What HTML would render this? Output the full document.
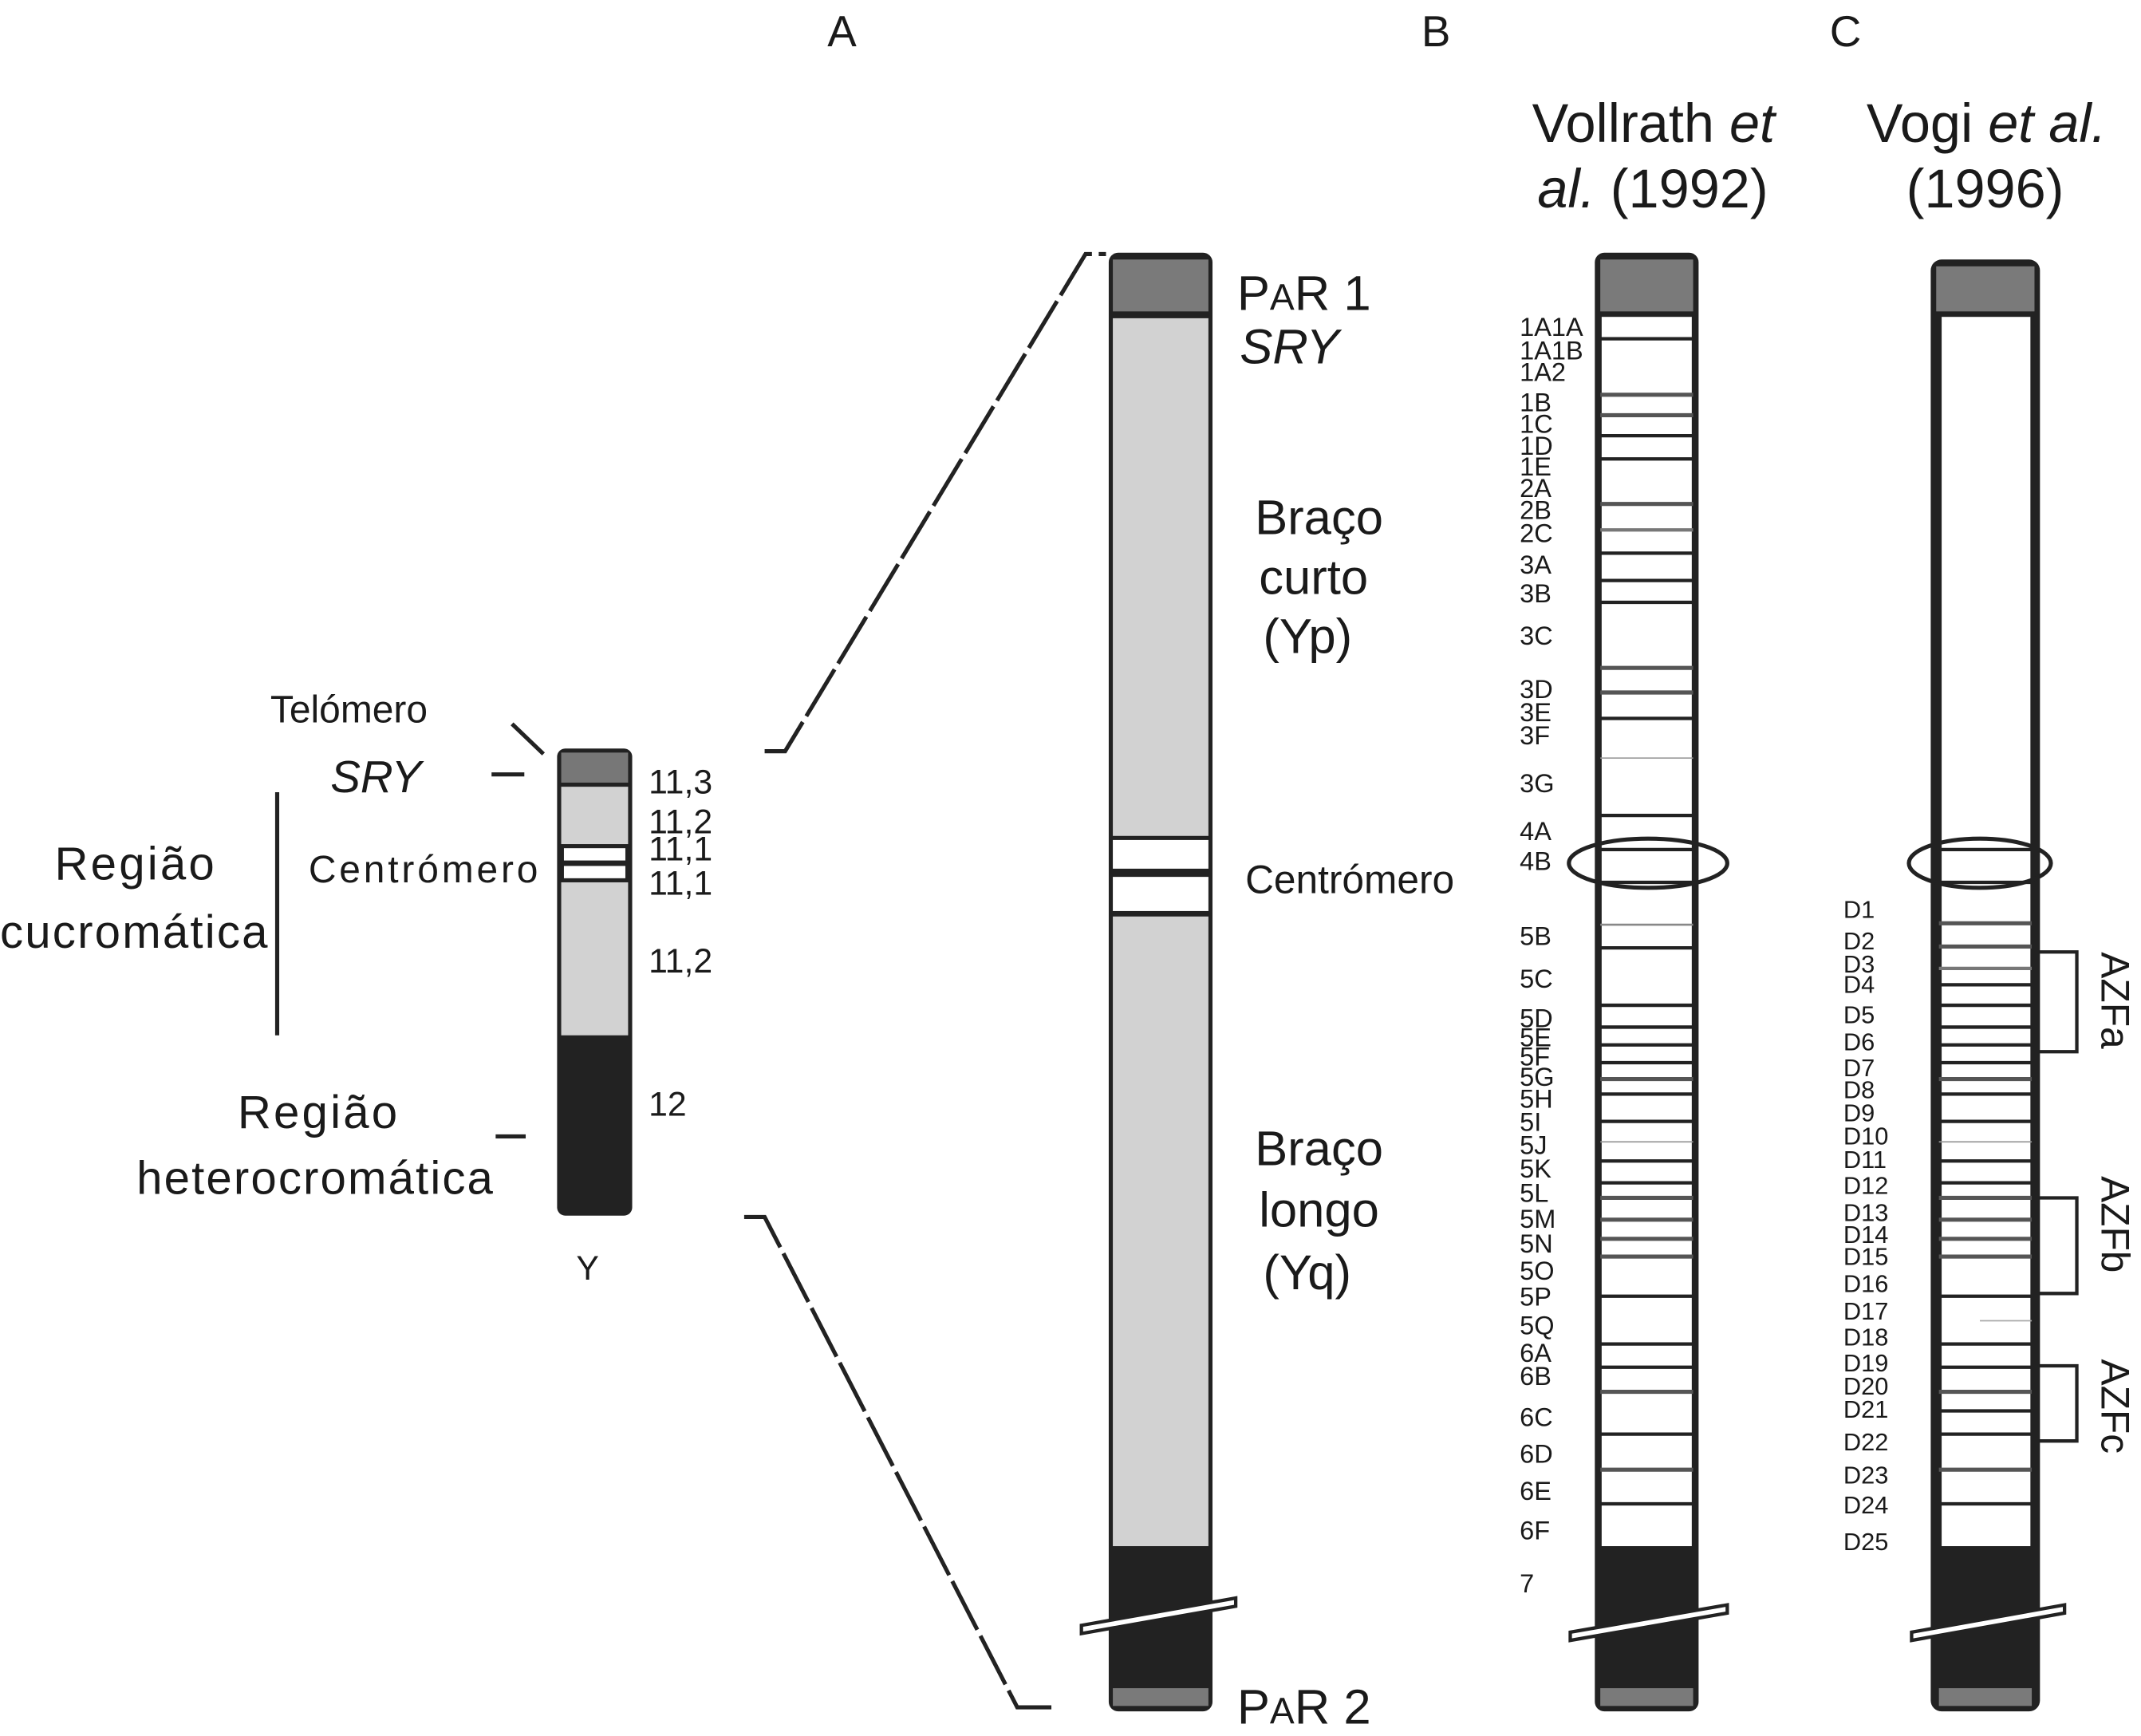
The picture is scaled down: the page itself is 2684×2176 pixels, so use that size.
<!DOCTYPE html>
<html><head><meta charset="utf-8"><style>
html,body{margin:0;padding:0;background:#fff;}
svg{display:block;}
text{font-family:"Liberation Sans Narrow","Liberation Sans",sans-serif;fill:#1a1a1a;}
</style></head><body>
<svg width="2684" height="2176" viewBox="0 0 1568 1271" preserveAspectRatio="none" xmlns="http://www.w3.org/2000/svg">
<rect width="1568" height="1271" fill="#fff"/>
<g font-size="32">
<text x="606" y="34" style="font-family:'Liberation Sans',sans-serif">A</text>
<text x="1041" y="34" style="font-family:'Liberation Sans',sans-serif">B</text>
<text x="1340" y="34" style="font-family:'Liberation Sans',sans-serif">C</text>
</g>
<g font-size="40">
<text x="1122" y="104" style="font-family:'Liberation Sans',sans-serif">Vollrath <tspan font-style="italic">et</tspan></text>
<text x="1126" y="152" style="font-family:'Liberation Sans',sans-serif"><tspan font-style="italic">al.</tspan> (1992)</text>
<text x="1367" y="104" style="font-family:'Liberation Sans',sans-serif">Vogi <tspan font-style="italic">et al.</tspan></text>
<text x="1396" y="152" style="font-family:'Liberation Sans',sans-serif">(1996)</text>
</g>

<rect x="408" y="548" width="55" height="342" rx="6" fill="#222"/>
<rect x="411" y="551" width="49" height="22" fill="#777"/>
<rect x="411" y="576" width="49" height="42" fill="#d2d2d2"/>
<rect x="413" y="621" width="45" height="9" fill="#fff"/>
<rect x="413" y="634" width="45" height="9" fill="#fff"/>
<rect x="411" y="646" width="49" height="112" fill="#d2d2d2"/>
<g font-size="25">
<text x="475" y="581">11,3</text>
<text x="475" y="610">11,2</text>
<text x="475" y="630">11,1</text>
<text x="475" y="655">11,1</text>
<text x="475" y="712">11,2</text>
<text x="475" y="817">12</text>
<text x="422" y="937">Y</text>
</g>
<g font-size="28">
<text x="198" y="529">Telómero</text>
<text x="242" y="580" font-style="italic" font-size="33">SRY</text>
<text x="226" y="646" textLength="168">Centrómero</text>
<text x="40" y="644" font-size="34" textLength="117">Região</text>
<text x="0" y="694" font-size="34" textLength="196">cucromática</text>
<text x="174" y="826" font-size="34" textLength="117">Região</text>
<text x="100" y="874" font-size="34" textLength="261">heterocromática</text>
</g>
<line x1="203" y1="580" x2="203" y2="758" stroke="#222" stroke-width="3"/>
<line x1="375" y1="530" x2="398" y2="552" stroke="#222" stroke-width="3"/>
<line x1="360" y1="567" x2="384" y2="567" stroke="#222" stroke-width="3"/>
<line x1="363" y1="832" x2="385" y2="832" stroke="#222" stroke-width="3"/>

<path d="M560 550 L575 550 L795 186 L810 186" fill="none" stroke="#222" stroke-width="3" stroke-dasharray="40 5"/>
<path d="M545 891 L560 891 L745 1250 L770 1250" fill="none" stroke="#222" stroke-width="3" stroke-dasharray="40 5"/>

<rect x="812" y="185" width="76" height="1068" rx="7" fill="#222"/>
<rect x="815" y="190" width="70" height="38" fill="#7a7a7a"/>
<rect x="815" y="233" width="70" height="379" fill="#d2d2d2"/>
<rect x="815" y="615" width="70" height="21" fill="#fff"/>
<rect x="815" y="642" width="70" height="25" fill="#fff"/>
<rect x="815" y="671" width="70" height="461" fill="#d2d2d2"/>
<rect x="815" y="1236" width="70" height="13" fill="#7a7a7a"/>
<path d="M792 1190 L905 1170 L905 1176 L792 1196Z" fill="#fff" stroke="#222" stroke-width="2.5"/>
<g font-size="36">
<text x="906" y="227" style="font-family:'Liberation Sans',sans-serif">P<tspan font-size="27">A</tspan>R 1</text>
<text x="908" y="266" font-style="italic" style="font-family:'Liberation Sans',sans-serif">SRY</text>
<text x="919" y="391" style="font-family:'Liberation Sans',sans-serif">Braço</text>
<text x="922" y="435" style="font-family:'Liberation Sans',sans-serif">curto</text>
<text x="925" y="478" style="font-family:'Liberation Sans',sans-serif">(Yp)</text>
<text x="919" y="853" style="font-family:'Liberation Sans',sans-serif">Braço</text>
<text x="922" y="898" style="font-family:'Liberation Sans',sans-serif">longo</text>
<text x="925" y="944" style="font-family:'Liberation Sans',sans-serif">(Yq)</text>
<text x="906" y="1262" style="font-family:'Liberation Sans',sans-serif">P<tspan font-size="27">A</tspan>R 2</text>
</g>
<text x="912" y="654" font-size="29" style="font-family:'Liberation Sans',sans-serif">Centrómero</text>

<rect x="1168" y="185" width="76" height="1068" rx="7" fill="#222"/>
<rect x="1172" y="190" width="68" height="38" fill="#7a7a7a"/>
<rect x="1173" y="232" width="66" height="900" fill="#fff"/>
<rect x="1172" y="1236" width="68" height="13" fill="#7a7a7a"/>
<g stroke="#222" stroke-width="2.5">
<line x1="1172" x2="1240" y1="248" y2="248"/>
<line x1="1172" x2="1240" y1="289" y2="289" stroke="#555" stroke-width="3"/>
<line x1="1172" x2="1240" y1="304" y2="304" stroke="#555" stroke-width="3"/>
<line x1="1172" x2="1240" y1="319" y2="319"/>
<line x1="1172" x2="1240" y1="336" y2="336"/>
<line x1="1172" x2="1240" y1="369" y2="369" stroke="#555" stroke-width="3"/>
<line x1="1172" x2="1240" y1="388" y2="388" stroke="#777"/>
<line x1="1172" x2="1240" y1="405" y2="405"/>
<line x1="1172" x2="1240" y1="425" y2="425"/>
<line x1="1172" x2="1240" y1="441" y2="441"/>
<line x1="1172" x2="1240" y1="489" y2="489" stroke="#555" stroke-width="3"/>
<line x1="1172" x2="1240" y1="507" y2="507" stroke="#555" stroke-width="3"/>
<line x1="1172" x2="1240" y1="526" y2="526"/>
<line x1="1172" x2="1240" y1="555" y2="555" stroke="#999" stroke-width="1"/>
<line x1="1172" x2="1240" y1="597" y2="597"/>
<line x1="1172" x2="1240" y1="622" y2="622"/>
<line x1="1172" x2="1240" y1="646" y2="646"/>
<line x1="1172" x2="1240" y1="677" y2="677" stroke="#888" stroke-width="1.5"/>
<line x1="1172" x2="1240" y1="694" y2="694"/>
<line x1="1172" x2="1240" y1="736" y2="736"/>
<line x1="1172" x2="1240" y1="752" y2="752"/>
<line x1="1172" x2="1240" y1="765" y2="765"/>
<line x1="1172" x2="1240" y1="778" y2="778"/>
<line x1="1172" x2="1240" y1="790" y2="790" stroke="#555" stroke-width="3"/>
<line x1="1172" x2="1240" y1="801" y2="801"/>
<line x1="1172" x2="1240" y1="821" y2="821"/>
<line x1="1172" x2="1240" y1="836" y2="836" stroke="#999" stroke-width="1"/>
<line x1="1172" x2="1240" y1="850" y2="850"/>
<line x1="1172" x2="1240" y1="866" y2="866"/>
<line x1="1172" x2="1240" y1="877" y2="877" stroke="#555" stroke-width="3"/>
<line x1="1172" x2="1240" y1="893" y2="893" stroke="#555" stroke-width="3"/>
<line x1="1172" x2="1240" y1="907" y2="907" stroke="#555" stroke-width="3"/>
<line x1="1172" x2="1240" y1="920" y2="920" stroke="#555" stroke-width="3"/>
<line x1="1172" x2="1240" y1="949" y2="949"/>
<line x1="1172" x2="1240" y1="984" y2="984"/>
<line x1="1172" x2="1240" y1="1001" y2="1001"/>
<line x1="1172" x2="1240" y1="1019" y2="1019" stroke="#555" stroke-width="3"/>
<line x1="1172" x2="1240" y1="1050" y2="1050"/>
<line x1="1172" x2="1240" y1="1076" y2="1076" stroke="#555" stroke-width="3"/>
<line x1="1172" x2="1240" y1="1101" y2="1101"/>
</g>
<ellipse cx="1207" cy="632" rx="58" ry="18" fill="none" stroke="#222" stroke-width="3"/>
<path d="M1150 1195 L1265 1175 L1265 1181 L1150 1201Z" fill="#fff" stroke="#222" stroke-width="2.5"/>
<g font-size="19">
<text x="1113" y="246">1A1A</text><text x="1113" y="263">1A1B</text><text x="1113" y="279">1A2</text>
<text x="1113" y="301">1B</text><text x="1113" y="317">1C</text><text x="1113" y="333">1D</text>
<text x="1113" y="348">1E</text><text x="1113" y="364">2A</text><text x="1113" y="380">2B</text>
<text x="1113" y="397">2C</text><text x="1113" y="420">3A</text><text x="1113" y="441">3B</text>
<text x="1113" y="472">3C</text><text x="1113" y="511">3D</text><text x="1113" y="528">3E</text>
<text x="1113" y="545">3F</text><text x="1113" y="580">3G</text><text x="1113" y="615">4A</text>
<text x="1113" y="637">4B</text><text x="1113" y="692">5B</text><text x="1113" y="723">5C</text>
<text x="1113" y="752">5D</text><text x="1113" y="766">5E</text><text x="1113" y="780">5F</text>
<text x="1113" y="795">5G</text><text x="1113" y="811">5H</text><text x="1113" y="828">5I</text>
<text x="1113" y="845">5J</text><text x="1113" y="862">5K</text><text x="1113" y="880">5L</text>
<text x="1113" y="899">5M</text><text x="1113" y="917">5N</text><text x="1113" y="937">5O</text>
<text x="1113" y="956">5P</text><text x="1113" y="977">5Q</text><text x="1113" y="997">6A</text>
<text x="1113" y="1014">6B</text><text x="1113" y="1044">6C</text><text x="1113" y="1071">6D</text>
<text x="1113" y="1098">6E</text><text x="1113" y="1127">6F</text><text x="1113" y="1166">7</text>
</g>

<rect x="1414" y="190" width="80" height="1063" rx="8" fill="#222"/>
<rect x="1418" y="195" width="72" height="33" fill="#7a7a7a"/>
<rect x="1422" y="232" width="65" height="900" fill="#fff"/>
<rect x="1420" y="1236" width="68" height="13" fill="#7a7a7a"/>
<g stroke="#222" stroke-width="2.5">
<line x1="1420" x2="1488" y1="622" y2="622"/>
<line x1="1420" x2="1488" y1="646" y2="646"/>
<line x1="1420" x2="1488" y1="676" y2="676" stroke="#555" stroke-width="3"/>
<line x1="1420" x2="1488" y1="693" y2="693" stroke="#555" stroke-width="3"/>
<line x1="1420" x2="1488" y1="709" y2="709" stroke="#777"/>
<line x1="1420" x2="1488" y1="721" y2="721"/>
<line x1="1420" x2="1488" y1="736" y2="736"/>
<line x1="1420" x2="1488" y1="752" y2="752"/>
<line x1="1420" x2="1488" y1="765" y2="765"/>
<line x1="1420" x2="1488" y1="778" y2="778"/>
<line x1="1420" x2="1488" y1="790" y2="790" stroke="#555" stroke-width="3"/>
<line x1="1420" x2="1488" y1="801" y2="801"/>
<line x1="1420" x2="1488" y1="821" y2="821"/>
<line x1="1420" x2="1488" y1="836" y2="836" stroke="#999" stroke-width="1"/>
<line x1="1420" x2="1488" y1="850" y2="850"/>
<line x1="1420" x2="1488" y1="866" y2="866"/>
<line x1="1420" x2="1488" y1="877" y2="877" stroke="#555" stroke-width="3"/>
<line x1="1420" x2="1488" y1="893" y2="893" stroke="#555" stroke-width="3"/>
<line x1="1420" x2="1488" y1="907" y2="907" stroke="#555" stroke-width="3"/>
<line x1="1420" x2="1488" y1="920" y2="920" stroke="#555" stroke-width="3"/>
<line x1="1420" x2="1488" y1="949" y2="949"/>
<line x1="1450" x2="1488" y1="967" y2="967" stroke="#aaa" stroke-width="1"/>
<line x1="1420" x2="1488" y1="984" y2="984"/>
<line x1="1420" x2="1488" y1="1001" y2="1001"/>
<line x1="1420" x2="1488" y1="1019" y2="1019" stroke="#555" stroke-width="3"/>
<line x1="1420" x2="1488" y1="1033" y2="1033"/>
<line x1="1420" x2="1488" y1="1050" y2="1050"/>
<line x1="1420" x2="1488" y1="1076" y2="1076" stroke="#555" stroke-width="3"/>
<line x1="1420" x2="1488" y1="1101" y2="1101"/>
</g>
<ellipse cx="1450" cy="632" rx="52" ry="18" fill="none" stroke="#222" stroke-width="3"/>
<path d="M1400 1195 L1512 1175 L1512 1181 L1400 1201Z" fill="#fff" stroke="#222" stroke-width="2.5"/>
<g fill="none" stroke="#222" stroke-width="2.5">
<path d="M1492 697 L1521 697 L1521 770 L1492 770"/>
<path d="M1492 877 L1521 877 L1521 947 L1492 947"/>
<path d="M1492 1000 L1521 1000 L1521 1055 L1492 1055"/>
</g>
<g font-size="29">
<text transform="translate(1539,697) rotate(90)" style="font-family:'Liberation Sans',sans-serif">AZFa</text>
<text transform="translate(1539,861) rotate(90)" style="font-family:'Liberation Sans',sans-serif">AZFb</text>
<text transform="translate(1539,995) rotate(90)" style="font-family:'Liberation Sans',sans-serif">AZFc</text>
</g>
<g font-size="18">
<text x="1350" y="672">D1</text><text x="1350" y="695">D2</text><text x="1350" y="712">D3</text>
<text x="1350" y="727">D4</text><text x="1350" y="749">D5</text><text x="1350" y="769">D6</text>
<text x="1350" y="788">D7</text><text x="1350" y="804">D8</text><text x="1350" y="821">D9</text>
<text x="1350" y="838">D10</text><text x="1350" y="855">D11</text><text x="1350" y="874">D12</text>
<text x="1350" y="894">D13</text><text x="1350" y="910">D14</text><text x="1350" y="926">D15</text>
<text x="1350" y="946">D16</text><text x="1350" y="966">D17</text><text x="1350" y="985">D18</text>
<text x="1350" y="1004">D19</text><text x="1350" y="1021">D20</text><text x="1350" y="1038">D21</text>
<text x="1350" y="1062">D22</text><text x="1350" y="1086">D23</text><text x="1350" y="1108">D24</text>
<text x="1350" y="1135">D25</text>
</g>
</svg>
</body></html>
